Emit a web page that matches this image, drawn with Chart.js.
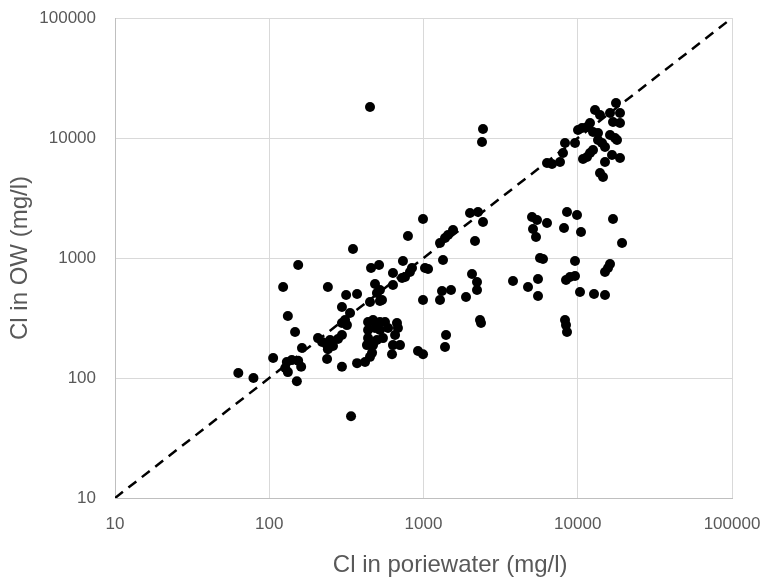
<!DOCTYPE html>
<html>
<head>
<meta charset="utf-8">
<script src="https://cdn.jsdelivr.net/npm/chart.js@4.4.1/dist/chart.umd.min.js"></script>
<style>
  html, body { margin: 0; padding: 0; background: #fff; }
  #wrap { width: 762px; height: 580px; }
</style>
</head>
<body>
<div id="wrap"><canvas id="clChart" width="762" height="580"></canvas></div>
<script>
// Cl in poriewater (x) and Cl in OW (y), mg/l
const clPore = [
  63, 79, 106, 130, 127, 132, 140, 154, 161, 151,
  132, 154, 123, 147, 163, 240, 207, 220, 237, 237,
  248, 259, 279, 296, 240, 296, 371, 418, 450, 464,
  339, 296, 334, 310, 296, 319, 315, 371, 457, 515,
  485, 499, 450, 522, 437, 471, 522, 563, 437, 485,
  522, 437, 499, 546, 430, 471, 450, 349, 589, 673,
  683, 654, 634, 704, 625, 921, 993, 634, 726, 759,
  817, 842, 736, 634, 522, 538, 793, 993, 1023, 1070,
  993, 1279, 1379, 1442, 1554, 1338, 1318, 1508, 1279, 1400,
  1379, 1886, 2063, 2223, 2223, 2002, 2256, 2431, 2157, 2325,
  2360, 2431, 2395, 3803, 4760, 5525, 5525, 5052, 5443, 6320,
  5128, 5363, 5691, 5952, 8519, 9890, 8146, 10500, 9601, 8393,
  8908, 9601, 10340, 12750, 15020, 8269, 8393, 8519, 15020, 15710,
  16190, 16930, 19370, 6320, 6809, 7674, 8024, 8269, 9601, 10820,
  11480, 12010, 12560, 10040, 10660, 11480, 12010, 12560, 13530, 13530,
  14370, 15020, 16190, 17440, 17970, 16680, 18790, 15020, 13940, 14580,
  12940, 13940, 16190, 18790, 16930, 18790, 17700
];
const clOW = [
  110, 100, 147, 136, 121, 112, 141, 139, 124, 94,
  329, 874, 573, 242, 178, 573, 215, 200, 188, 144,
  207, 185, 211, 228, 174, 124, 133, 136, 150, 162,
  48, 390, 348, 304, 287, 276, 492, 501, 825, 874,
  607, 511, 430, 438, 293, 304, 293, 293, 251, 261,
  251, 215, 207, 215, 188, 188, 18130, 1189, 261, 287,
  261, 228, 188, 188, 158, 168, 158, 750, 681, 694,
  764, 825, 944, 596, 541, 447, 1525, 2113, 825, 810,
  447, 1334, 1468, 1555, 1711, 962, 531, 541, 447, 228,
  181, 473, 736, 631, 541, 2371, 2417, 1995, 1386, 304,
  287, 11890, 9261, 643, 573, 668, 482, 2196, 2073, 1957,
  1744, 1496, 1000, 981, 2417, 2282, 1778, 1647, 944, 656,
  694, 708, 521, 501, 492, 304, 276, 242, 764, 825,
  891, 2113, 1334, 6190, 6072, 6310, 7499, 9085, 9085, 6683,
  6945, 7499, 7943, 11660, 12120, 12350, 13340, 11220, 11010, 9624,
  9085, 8414, 10590, 10000, 9624, 7217, 6813, 6310, 5109, 4732,
  17110, 15550, 16150, 16150, 13590, 13340, 19570
];
// 1:1 line end points
const oneToOne = [10, 100000];
const decadeTicks = [10, 100, 1000, 10000, 100000];

const textColor = "#595959";
const gridColor = "#d9d9d9";
const fontFamily = "'Liberation Sans', Arial, sans-serif";

const ctx = document.getElementById("clChart").getContext("2d");

const clChart = new Chart(ctx, {
  type: "scatter",
  data: {
    datasets: [
      {
        label: "samples",
        data: clPore.map((x, i) => ({ x: x, y: clOW[i] })),
        backgroundColor: "#000",
        borderWidth: 0,
        pointRadius: 5,
        order: 1,
      },
      {
        type: "line",
        label: "1:1",
        data: oneToOne.map((v) => ({ x: v, y: v })),
        borderColor: "#000",
        borderWidth: 2.5,
        borderDash: [10, 7],
        pointRadius: 0,
        fill: false,
        order: 2,
      },
    ],
  },
  options: {
    responsive: false,
    animation: false,
    layout: { padding: { top: 18, right: 30, left: 0, bottom: 0 } },
    plugins: { legend: { display: false }, tooltip: { enabled: false } },
    scales: {
      x: {
        type: "logarithmic",
        min: 10,
        max: 100000,
        afterBuildTicks: (s) => { s.ticks = decadeTicks.map((v) => ({ value: v })); },
        afterFit: (s) => {
          s.height = 82;
          // let the end labels hang over, Excel style
          s.paddingLeft = 0;
          s.paddingRight = 0;
        },
        ticks: {
          color: textColor,
          font: { family: fontFamily, size: 17 },
          padding: 16,
          maxRotation: 0,
          autoSkip: false,
          callback: (v) => String(v),
        },
        grid: { color: gridColor, drawTicks: false },
        border: { color: "#bfbfbf" },
        title: {
          display: true,
          // nbsp's push the title a bit right, like the original
          text: "\u00a0\u00a0\u00a0\u00a0\u00a0\u00a0\u00a0\u00a0Cl in poriewater (mg/l)",
          color: textColor,
          font: { family: fontFamily, size: 24 },
          padding: { top: 18, bottom: 0 },
        },
      },
      y: {
        type: "logarithmic",
        min: 10,
        max: 100000,
        afterBuildTicks: (s) => { s.ticks = decadeTicks.map((v) => ({ value: v })); },
        afterFit: (s) => {
          s.width = 115;
          s.paddingTop = 0;
          s.paddingBottom = 0;
        },
        ticks: {
          color: textColor,
          font: { family: fontFamily, size: 17 },
          padding: 19,
          autoSkip: false,
          callback: (v) => String(v),
        },
        grid: { color: gridColor, drawTicks: false },
        border: { color: "#bfbfbf" },
        title: {
          display: true,
          text: "Cl in OW (mg/l)",
          color: textColor,
          font: { family: fontFamily, size: 24 },
          padding: { top: 6, bottom: 0 },
        },
      },
    },
  },
});
</script>
</body>
</html>
